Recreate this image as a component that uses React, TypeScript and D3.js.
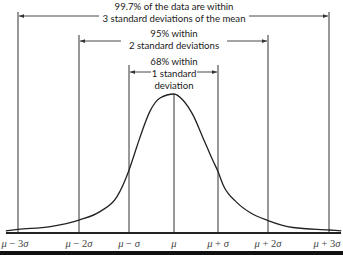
import React from "react";
import * as d3 from "d3";

// Sigma positions (tick labels)
const sigmaTicks = [-3, -2, -1, 0, 1, 2, 3];
const tickLabels = [
  ["μ", " − 3", "σ"],
  ["μ", " − 2", "σ"],
  ["μ", " − ", "σ"],
  ["μ", "", ""],
  ["μ", " + ", "σ"],
  ["μ", " + 2", "σ"],
  ["μ", " + 3", "σ"],
];

// Bell curve samples: z (in σ) and relative height
const curveZ = [-3.2, -3, -2.47, -2, -1.58, -1.24, -1, -0.87, -0.76, -0.53, -0.31, 0, 0.2, 0.43, 0.66, 0.886, 1, 1.1, 1.38, 1.64, 2, 2.41, 3, 3.2];
const curveH = [0.012, 0.022, 0.043, 0.09, 0.151, 0.259, 0.45, 0.576, 0.683, 0.878, 0.971, 1, 0.957, 0.849, 0.683, 0.518, 0.44, 0.345, 0.216, 0.144, 0.086, 0.036, 0.018, 0.012];

// Bracket annotations
const bracketSigma = [3, 2, 1];
const bracketText = [
  ["99.7% of the data are within", "3 standard deviations of the mean"],
  ["95% within", "2 standard deviations"],
  ["68% within", "1 standard", "deviation"],
];

export default function App() {
  const W = 343;
  const H = 255;
  const x = d3
    .scaleLinear()
    .domain(sigmaTicks)
    .range([18, 79, 129, 174, 218, 268, 329]);
  const y = d3.scaleLinear().domain([0, 1]).range([232.5, 94]);
  const baseY = 232.5;

  const pts: [number, number][] = curveZ.map((z, i) => [z, curveH[i]]);
  const line = d3
    .line<[number, number]>()
    .x((d) => x(d[0]))
    .y((d) => y(d[1]))
    .curve(d3.curveMonotoneX);

  // bracket layout
  const bracketTop = [12, 35, 65];
  const arrowY = [16, 41, 72];
  const textY0 = [9.5, 37, 65];
  const lineGap = 12;
  const arrowGap = [75, 53, 23];
  const font = "Lato, 'Open Sans', sans-serif";
  const cx = x(0);

  return (
    <svg
      width={W}
      height={H}
      style={{ position: "absolute", left: 0, top: 0, background: "#fff" }}
    >
      <defs>
        <marker
          id="ah"
          viewBox="0 0 8 6"
          refX="8"
          refY="3"
          markerWidth="5"
          markerHeight="4"
          orient="auto-start-reverse"
          markerUnits="userSpaceOnUse"
        >
          <path d="M0,0 L8,3 L0,6 Z" fill="#333" />
        </marker>
      </defs>
      <rect x={0} y={0} width={W} height={H} fill="#fff" />

      {/* vertical lines */}
      {sigmaTicks.map((z) => {
        const a = Math.abs(z);
        const top = a === 0 ? y(1) : bracketTop[3 - a];
        return (
          <line
            key={"v" + z}
            x1={x(z)}
            x2={x(z)}
            y1={top}
            y2={baseY}
            stroke="#333"
            strokeWidth={1}
          />
        );
      })}

      {/* brackets */}
      {bracketSigma.map((s, i) => {
        const xl = x(-s);
        const xr = x(s);
        const ay = arrowY[i];
        return (
          <g key={"b" + s}>
            <line
              x1={cx - arrowGap[i]}
              x2={xl + 1}
              y1={ay}
              y2={ay}
              stroke="#333"
              strokeWidth={0.9}
              markerEnd="url(#ah)"
            />
            <line
              x1={cx + arrowGap[i]}
              x2={xr - 1}
              y1={ay}
              y2={ay}
              stroke="#333"
              strokeWidth={0.9}
              markerEnd="url(#ah)"
            />
            {bracketText[i].map((t, j) => (
              <text
                key={j}
                x={cx}
                y={textY0[i] + j * lineGap}
                textAnchor="middle"
                fontFamily={font}
                fontSize={9.6}
                fill="#1a1a1a"
              >
                {t}
              </text>
            ))}
          </g>
        );
      })}

      {/* curve */}
      <path d={line(pts) || ""} fill="none" stroke="#222" strokeWidth={1.3} />

      {/* baseline */}
      <line x1={6} x2={341} y1={baseY + 0.5} y2={baseY + 0.5} stroke="#222" strokeWidth={1.8} />

      {/* tick labels */}
      {sigmaTicks.map((z, i) => {
        let tx = x(z);
        if (i === 0) tx -= 3;
        if (i === sigmaTicks.length - 1) tx -= 2;
        const [m, mid, s] = tickLabels[i];
        return (
          <text
            key={"t" + z}
            x={tx}
            y={246.5}
            textAnchor="middle"
            fontFamily="'Liberation Serif', 'DejaVu Serif', serif"
            fontSize={10.5}
            fill="#444"
          >
            <tspan fontStyle="italic">{m}</tspan>
            {mid ? <tspan>{mid}</tspan> : null}
            {s ? <tspan fontStyle="italic">{s}</tspan> : null}
          </text>
        );
      })}

      {/* bottom black strip */}
      <rect x={0} y={251} width={W} height={4} fill="#111" />
    </svg>
  );
}
